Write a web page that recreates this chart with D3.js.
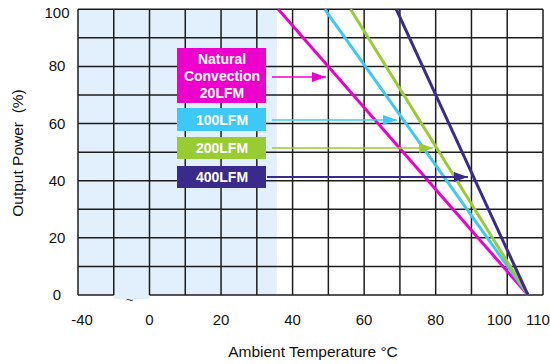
<!DOCTYPE html>
<html>
<head>
<meta charset="utf-8">
<script src="https://cdn.jsdelivr.net/npm/d3@7"></script>
<style>
  body { margin: 0; background: #fff; }
  text { font-family: "Liberation Sans", Arial, sans-serif; }
</style>
</head>
<body>
<div id="chart"></div>
<script>
// derating curves: full power up to "start", falls linearly to 0 at "end"
const seriesNames = ["Natural Convection 20LFM", "100LFM", "200LFM", "400LFM"];
const legendLines = [["Natural", "Convection", "20LFM"], ["100LFM"], ["200LFM"], ["400LFM"]];
const derateStart = [36, 49, 56.2, 69];
const derateEnd = [105.8, 105.8, 105.8, 105.8];
const arrowTipTemp = [49.3, 69.2, 79.3, 89];
const seriesColors = ["#ee00cc", "#3ec8f6", "#99cc33", "#3a2a8c"];

const xTickValues = [-40, 0, 20, 40, 60, 80, 100, 110];
const xGridValues = [-40, -20, 0, 10, 20, 30, 40, 50, 60, 70, 80, 90, 100, 110];
const yTickValues = [0, 20, 40, 60, 80, 100];
const yGridValues = [0, 10, 20, 30, 40, 50, 60, 70, 80, 90, 100];
const shadeLimit = 35.6;

const W = 550, H = 364;
const svg = d3.select("#chart").append("svg")
  .attr("width", W).attr("height", H);

// broken x axis: -40 .. 0 squeezed into two columns
const x = d3.scaleLinear().domain([-40, 0, 110]).range([78, 149.5, 543]);
const y = d3.scaleLinear().domain([0, 100]).range([295, 9.3]);

// light blue area
svg.append("rect")
  .attr("x", x(-40)).attr("y", y(100))
  .attr("width", x(shadeLimit) - x(-40))
  .attr("height", y(0) - y(100))
  .attr("fill", "#e1f0fc");
// small patch under the axis break
svg.append("rect")
  .attr("x", x(-20)).attr("y", y(0))
  .attr("width", x(0) - x(-20)).attr("height", 4)
  .attr("fill", "#e1f0fc");

// grid
const grid = svg.append("g").attr("stroke", "#1c1c1c").attr("stroke-width", 1.5);
grid.selectAll(".vg").data(xGridValues).enter().append("line")
  .attr("x1", d => x(d)).attr("x2", d => x(d))
  .attr("y1", y(100)).attr("y2", y(0));
grid.selectAll(".hg").data(yGridValues.filter(d => d > 0)).enter().append("line")
  .attr("x1", x(-40)).attr("x2", x(110))
  .attr("y1", d => y(d)).attr("y2", d => y(d));
// bottom line, with a gap for the break
grid.append("line").attr("x1", x(-40)).attr("x2", x(-20)).attr("y1", y(0)).attr("y2", y(0));
grid.append("line").attr("x1", x(0)).attr("x2", x(110)).attr("y1", y(0)).attr("y2", y(0));

svg.append("text").text("~")
  .attr("x", (x(-20) + x(0)) / 2 - 2).attr("y", y(0) + 9)
  .attr("text-anchor", "middle")
  .attr("font-size", 13).attr("fill", "#333");

// tick labels
const xLabelShift = {100: -8, 110: -5, "-40": 4};
svg.append("g").selectAll("text").data(xTickValues).enter().append("text")
  .text(d => d)
  .attr("x", d => x(d) + (xLabelShift[d] || 0))
  .attr("y", 325)
  .attr("text-anchor", "middle")
  .attr("font-size", 15).attr("fill", "#111");

svg.append("g").selectAll("text").data(yTickValues).enter().append("text")
  .text(d => d)
  .attr("x", 57)
  .attr("y", d => Math.max(y(d), 13) + 5)
  .attr("text-anchor", "middle")
  .attr("font-size", 15).attr("fill", "#111");

// axis titles
svg.append("text").text("Ambient Temperature °C")
  .attr("x", 313).attr("y", 357)
  .attr("text-anchor", "middle")
  .attr("font-size", 15.5).attr("fill", "#111");

svg.append("text").text("Output Power  (%)")
  .style("white-space", "pre")
  .attr("transform", "translate(23,153) rotate(-90)")
  .attr("text-anchor", "middle")
  .attr("font-size", 15.5).attr("fill", "#111");

// curves
const line = d3.line().x(d => x(d[0])).y(d => y(d[1]));
const curves = seriesNames.map((n, i) => [[derateStart[i], 100], [derateEnd[i], 0]]);
svg.append("g").selectAll("path").data(curves).enter().append("path")
  .attr("d", line)
  .attr("fill", "none")
  .attr("stroke", (d, i) => seriesColors[i])
  .attr("stroke-width", 3);

// legend boxes and arrows
const boxes = [
  {y0: 48, y1: 103, cy: 77},
  {y0: 108, y1: 131, cy: 120},
  {y0: 137, y1: 159, cy: 148},
  {y0: 166, y1: 188, cy: 177}
];
const defs = svg.append("defs");
seriesColors.forEach((c, i) => {
  defs.append("marker")
    .attr("id", "arr" + i)
    .attr("viewBox", "0 0 14 10")
    .attr("refX", 14).attr("refY", 5)
    .attr("markerWidth", 14).attr("markerHeight", 10)
    .attr("markerUnits", "userSpaceOnUse")
    .attr("orient", "auto")
    .append("path").attr("d", "M0,0L14,5L0,10Z").attr("fill", c);
});

const leg = svg.append("g");
boxes.forEach((b, i) => {
  leg.append("line")
    .attr("x1", i === 3 ? 267 : 272).attr("x2", x(arrowTipTemp[i]))
    .attr("y1", b.cy).attr("y2", b.cy)
    .attr("stroke", seriesColors[i])
    .attr("stroke-width", i === 3 ? 2.2 : 1.5)
    .attr("marker-end", "url(#arr" + i + ")");

  leg.append("rect")
    .attr("x", 177).attr("y", b.y0)
    .attr("width", 89).attr("height", b.y1 - b.y0)
    .attr("fill", seriesColors[i]);

  const lines = legendLines[i];
  const mid = (b.y0 + b.y1) / 2;
  lines.forEach((t, j) => {
    leg.append("text").text(t)
      .attr("x", 222)
      .attr("y", mid + (j - (lines.length - 1) / 2) * 17 + 5)
      .attr("text-anchor", "middle")
      .attr("font-size", 14).attr("font-weight", "bold")
      .attr("fill", "#fff");
  });
});
</script>
</body>
</html>
